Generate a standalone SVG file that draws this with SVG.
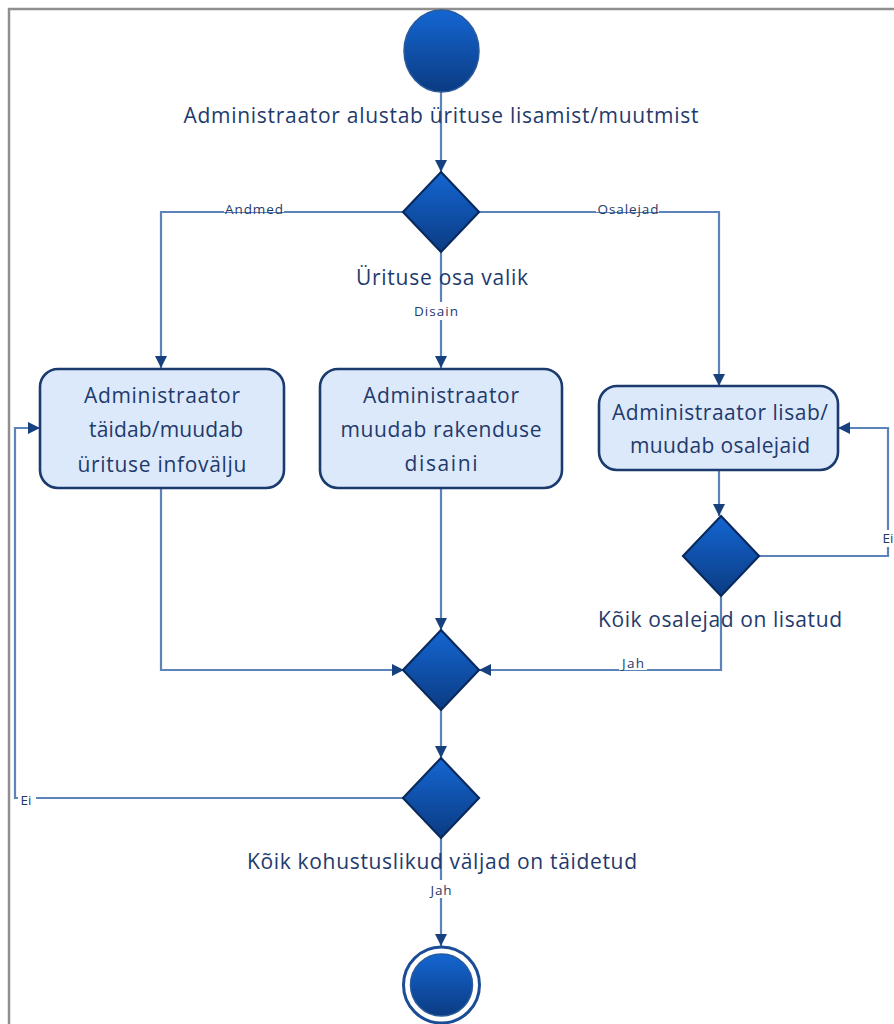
<svg xmlns="http://www.w3.org/2000/svg" width="894" height="1024" viewBox="0 0 894 1024">
  <defs>
    <linearGradient id="blueFill" x1="0" y1="0" x2="0" y2="1">
      <stop offset="0" stop-color="#1466d2"/>
      <stop offset="1" stop-color="#0b3b82"/>
    </linearGradient>
    <marker id="arrow" viewBox="0 0 12 12" refX="12" refY="6" markerWidth="12" markerHeight="12" markerUnits="userSpaceOnUse" orient="auto">
      <path d="M0,0 L12,6 L0,12 Z" fill="#17407e"/>
    </marker>
    <style>
      .frame { stroke: #8f8f8f; stroke-width: 2.5; fill: none; }
      .edge { fill: none; stroke: #5d84b8; stroke-width: 2.2; }
      .dot { fill: url(#blueFill); stroke: #2a5a9a; stroke-width: 1.5; }
      .decision { fill: url(#blueFill); stroke: #0a2a5e; stroke-width: 2.2; stroke-linejoin: miter; }
      .action rect { fill: #dce9fa; stroke: #1b3b6f; stroke-width: 2.6; }
      .big { font-family: "Open Sans", "Noto Sans", sans-serif; font-size: 21px; fill: #1f3a6c; text-anchor: middle; }
      .small { font-family: "Open Sans", "Noto Sans", sans-serif; font-size: 13.5px; fill: #1f3a6c; text-anchor: middle; }
      .lbl-bg { fill: #ffffff; }
    </style>
  </defs>

  <rect width="894" height="1024" fill="#ffffff"/>
  <!-- page frame -->
  <path class="frame" d="M9,1024 L9,9 L894,9"/>

  <!-- connectors -->
  <g id="connectors">
    <path class="edge" d="M441,92 L441,172" marker-end="url(#arrow)"/>
    <path class="edge" d="M404,212 L161,212 L161,368" marker-end="url(#arrow)"/>
    <path class="edge" d="M479,212 L719,212 L719,386" marker-end="url(#arrow)"/>
    <path class="edge" d="M441,252 L441,368" marker-end="url(#arrow)"/>
    <path class="edge" d="M719,470 L719,516" marker-end="url(#arrow)"/>
    <path class="edge" d="M759,556 L888,556 L888,428 L838,428" marker-end="url(#arrow)"/>
    <path class="edge" d="M721,596 L721,670 L479,670" marker-end="url(#arrow)"/>
    <path class="edge" d="M161,488 L161,670 L404,670" marker-end="url(#arrow)"/>
    <path class="edge" d="M441,488 L441,630" marker-end="url(#arrow)"/>
    <path class="edge" d="M441,710 L441,758" marker-end="url(#arrow)"/>
    <path class="edge" d="M404,798 L15,798 L15,428 L40,428" marker-end="url(#arrow)"/>
    <path class="edge" d="M441,838 L441,946" marker-end="url(#arrow)"/>

    <!-- connector labels -->
    <rect class="lbl-bg" x="224" y="202" width="60" height="10"/>
    <text class="small" x="254" y="214" textLength="58">Andmed</text>
    <rect class="lbl-bg" x="596" y="202" width="63" height="10"/>
    <text class="small" x="628" y="214" textLength="61">Osalejad</text>
    <rect class="lbl-bg" x="412" y="302" width="48" height="18"/>
    <text class="small" x="436" y="316" textLength="44">Disain</text>
    <rect class="lbl-bg" x="880" y="530" width="14" height="17"/>
    <text class="small" x="888" y="543">Ei</text>
    <rect class="lbl-bg" x="619" y="660" width="28" height="10"/>
    <text class="small" x="633" y="668" textLength="22">Jah</text>
    <rect class="lbl-bg" x="18" y="792" width="18" height="9"/>
    <text class="small" x="26" y="805">Ei</text>
    <rect class="lbl-bg" x="428" y="880" width="26" height="18"/>
    <text class="small" x="441" y="895" textLength="21">Jah</text>
  </g>

  <!-- start -->
  <g id="start">
    <ellipse class="dot" cx="441.5" cy="51" rx="37.5" ry="41"/>
    <text class="big" x="441" y="123" textLength="515">Administraator alustab ürituse lisamist/muutmist</text>
  </g>

  <!-- choose event section -->
  <g id="choice">
    <path class="decision" d="M441,172 L479,212 L441,252 L403,212 Z"/>
    <text class="big" x="442" y="285" textLength="172">Ürituse osa valik</text>
  </g>

  <g id="fill-info" class="action">
    <rect x="40" y="369" width="244" height="119" rx="18" ry="18"/>
    <text class="big" x="162" y="403" textLength="156">Administraator</text>
    <text class="big" x="166" y="437" textLength="154">täidab/muudab</text>
    <text class="big" x="162" y="472" textLength="169">ürituse infovälju</text>
  </g>

  <g id="change-design" class="action">
    <rect x="320" y="369" width="242" height="119" rx="18" ry="18"/>
    <text class="big" x="441" y="403" textLength="156">Administraator</text>
    <text class="big" x="441" y="437" textLength="201">muudab rakenduse</text>
    <text class="big" x="441" y="471" textLength="73">disaini</text>
  </g>

  <g id="edit-participants" class="action">
    <rect x="599" y="386" width="239" height="84" rx="18" ry="18"/>
    <text class="big" x="720" y="420" textLength="216">Administraator lisab/</text>
    <text class="big" x="720" y="453" textLength="180">muudab osalejaid</text>
  </g>

  <g id="participants-done">
    <path class="decision" d="M721,516 L759,556 L721,596 L683,556 Z"/>
    <text class="big" x="720" y="627" textLength="244">Kõik osalejad on lisatud</text>
  </g>

  <g id="merge">
    <path class="decision" d="M441,630 L479,670 L441,710 L403,670 Z"/>
  </g>

  <g id="fields-done">
    <path class="decision" d="M441,758 L479,798 L441,838 L403,798 Z"/>
    <text class="big" x="442" y="869" textLength="390">Kõik kohustuslikud väljad on täidetud</text>
  </g>

  <!-- end -->
  <g id="end">
    <circle cx="441.5" cy="985" r="38" fill="#ffffff" stroke="#1a4d95" stroke-width="3"/>
    <circle class="dot" cx="441.5" cy="985" r="31"/>
  </g>
</svg>
